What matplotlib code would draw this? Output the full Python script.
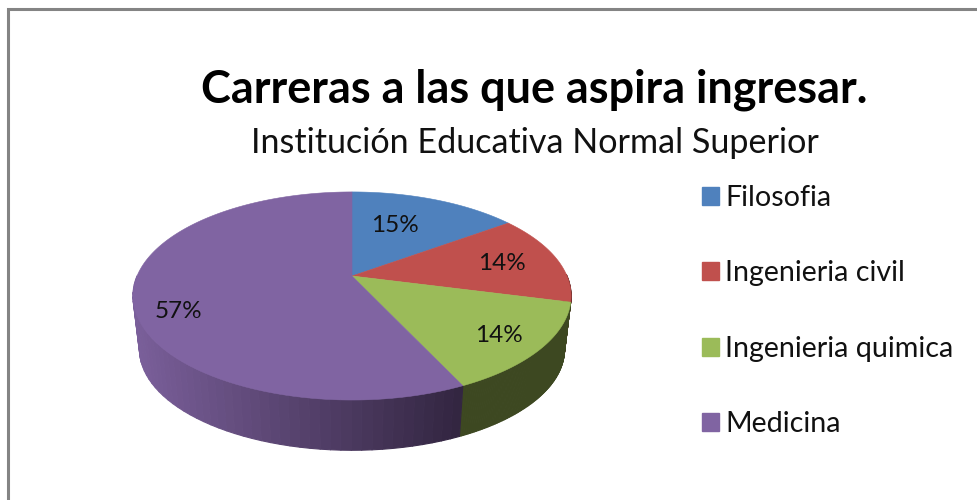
import numpy as np
import matplotlib
matplotlib.use("Agg")
import matplotlib.pyplot as plt
from matplotlib.collections import PolyCollection
from matplotlib.patches import Patch, Polygon
from matplotlib.colors import to_rgb

# ---- data ----
categories = ["Filosofia", "Ingenieria civil", "Ingenieria quimica", "Medicina"]
percentages = [15, 14, 14, 57]
title_text = "Carreras a las que aspira ingresar."
subtitle_text = "Institución Educativa Normal Superior"

# ---- style ----
TOP_COLORS = ["#4F81BD", "#C0504D", "#9BBB59", "#8064A2"]
SIDE_LIGHT = ["#3B5F8C", "#8F3C3A", "#465227", "#7A5F9A"]
SIDE_DARK = ["#2A4466", "#662A28", "#3D4821", "#322540"]
LABEL_POS = [(394.5, 225), (502, 263), (498.5, 335.5), (178, 311.5)]
FONT = "Lato"

# perspective model of the tilted disc (pixel units)
CX, CY, A, B, K = 352.0, 276.0, 215.0, 100.2, 0.192
LOWER_DY, LOWER_SCALE = 54.0, 0.97


def project(theta, radius=1.0, lower=False):
    """theta is clockwise from 12 o'clock, in radians."""
    u, v = radius * np.sin(theta), radius * np.cos(theta)
    den = 1 + K * v
    x, y = A * u / den, -B * v / den
    if lower:
        return CX + x * LOWER_SCALE, CY + LOWER_DY + y * LOWER_SCALE
    return CX + x, CY + y


fig = plt.figure(figsize=(9.77, 5.0), dpi=100, facecolor="white")
ax = fig.add_axes([0, 0, 1, 1])
ax.set_xlim(0, 977)
ax.set_ylim(500, 0)
ax.axis("off")

# chart frame: only top and left are visible in the crop
ax.plot([8, 8, 977], [500, 9, 9], color="#848484", lw=2.2, solid_joinstyle="miter")

fractions = np.array(percentages, dtype=float) / sum(percentages)
edges = np.concatenate([[0], np.cumsum(fractions)]) * 2 * np.pi

# side wall, drawn from the back towards the front
for i in range(len(percentages)):
    ts = np.linspace(edges[i], edges[i + 1], 90)
    quads, colors = [], []
    light, dark = np.array(to_rgb(SIDE_LIGHT[i])), np.array(to_rgb(SIDE_DARK[i]))
    for t0, t1 in zip(ts[:-1], ts[1:]):
        tm = (t0 + t1) / 2
        if np.cos(tm) > 0.02:  # back half is hidden
            continue
        x0, y0 = project(t0)
        x1, y1 = project(t1)
        x2, y2 = project(t1, lower=True)
        x3, y3 = project(t0, lower=True)
        quads.append([(x0, y0), (x1, y1), (x2, y2), (x3, y3)])
        xm = np.clip((project(tm)[0] - 133) / (463 - 133), 0, 1)
        colors.append(light + (dark - light) * xm)
    if quads:
        ax.add_collection(PolyCollection(quads, facecolors=colors, edgecolors=colors, linewidths=0.8))

# top faces
for i in range(len(percentages)):
    ts = np.linspace(edges[i], edges[i + 1], 200)
    xs, ys = project(ts)
    pts = np.column_stack([np.r_[CX, xs], np.r_[CY, ys]])
    ax.add_patch(Polygon(pts, closed=True, facecolor=TOP_COLORS[i], edgecolor=TOP_COLORS[i], lw=0.4))

# data labels
for p, (lx, ly) in zip(percentages, LABEL_POS):
    ax.text(lx, ly, f"{p}%", ha="center", va="center", fontsize=17.5, family=FONT, color="#111111")

# titles
ax.text(534, 89.5, title_text, ha="center", va="center", fontsize=32.4, fontweight="bold", family=FONT, color="black")
ax.text(535, 143, subtitle_text, ha="center", va="center", fontsize=24.6, family=FONT, color="#111111")

# legend
handles = [Patch(facecolor=c, edgecolor=c) for c in TOP_COLORS]
ax.legend(handles, categories, loc="upper left", bbox_to_anchor=(693 / 977, 1 - 176.5 / 500),
          frameon=False, prop={"family": FONT, "size": 20.6}, labelspacing=1.725,
          handlelength=0.6, handleheight=0.6, handletextpad=0.22, borderpad=0.3, borderaxespad=0, labelcolor="#111111")

fig.savefig("out.png", dpi=100)
